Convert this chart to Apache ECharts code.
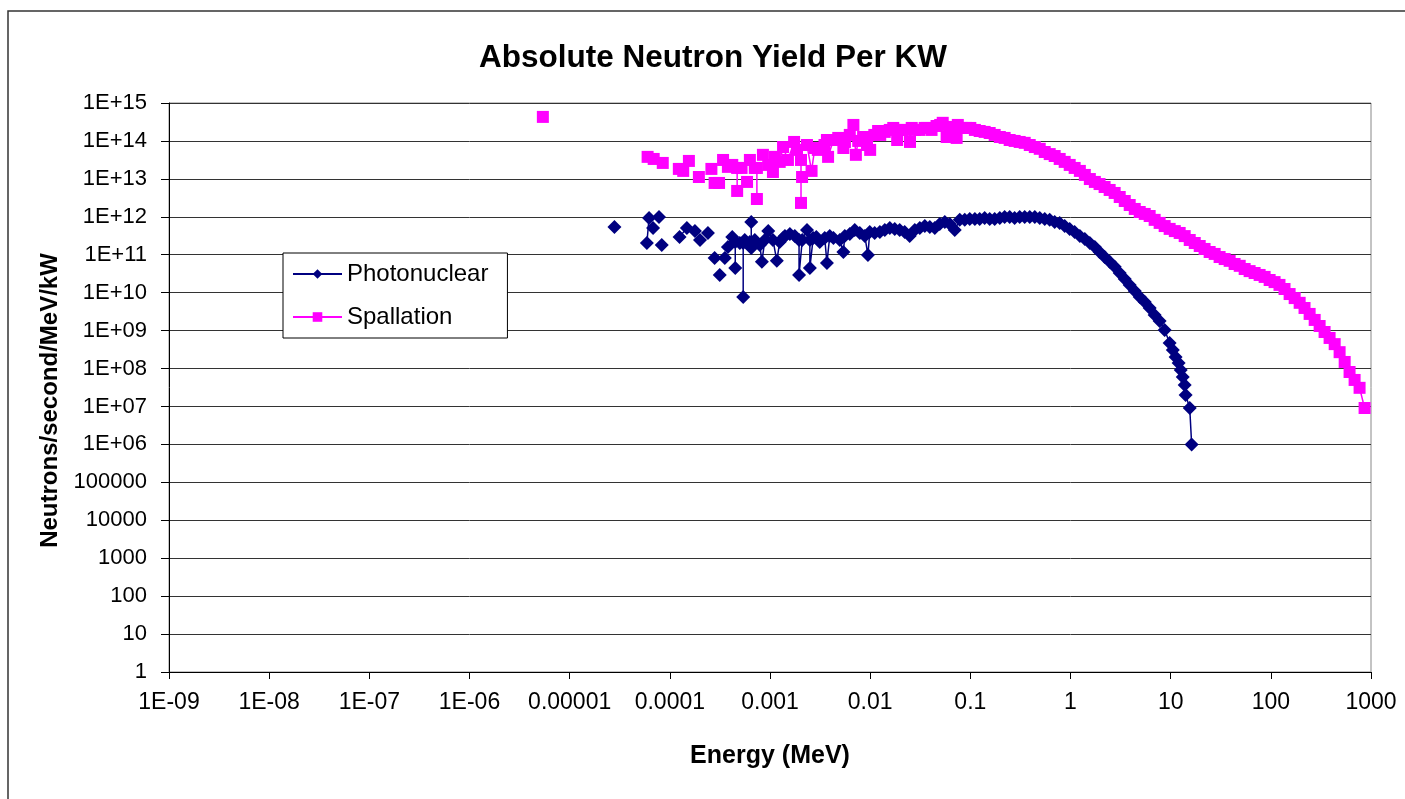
<!DOCTYPE html>
<html>
<head>
<meta charset="utf-8">
<title>Absolute Neutron Yield Per KW</title>
<script src="https://cdn.jsdelivr.net/npm/echarts@6/dist/echarts.min.js"></script>
<style>
  html, body { margin: 0; padding: 0; background: #fff; }
  #chart { width: 1405px; height: 799px; }
</style>
</head>
<body>
<div id="chart"></div>
<script>
(function () {
    'use strict';

    // tick labels, Excel "General" style
    var xTickLabels = ['1E-09', '1E-08', '1E-07', '1E-06', '0.00001', '0.0001', '0.001',
                       '0.01', '0.1', '1', '10', '100', '1000'];
    var yTickLabels = ['1', '10', '100', '1000', '10000', '100000', '1E+06', '1E+07', '1E+08',
                       '1E+09', '1E+10', '1E+11', '1E+12', '1E+13', '1E+14', '1E+15'];

    // null = gap in the line (blank cell in the sheet)
    var photoEnergy = [
        2.8e-5, null,
        6.2e-5, 5.9e-5, null,
        6.8e-5, null, 7.8e-5, null, 8.3e-5, null,
        1.25e-4, 1.48e-4, 1.78e-4, null,
        2.0e-4, null, 2.4e-4, null, 2.8e-4, null, 3.15e-4, null, 3.54e-4, null, 3.8e-4, null,
        4.2e-4, 4.5e-4, 4.5e-4, null,
        5.0e-4, 5.4e-4, 5.4e-4, null,
        6.5e-4, 6.5e-4, null,
        5.6e-4, 6.29e-4, 7.05e-4, 7.91e-4, 8.3e-4, 8.88e-4, 9.6e-4, 1.07e-3, 1.17e-3, 1.25e-3,
        1.35e-3, 1.41e-3, 1.58e-3, 1.77e-3, 1.95e-3, 1.95e-3, 2.1e-3, 2.34e-3, 2.5e-3, 2.5e-3,
        2.7e-3, 2.9e-3, 3.14e-3, 3.52e-3, 3.7e-3, 3.95e-3, 4.3e-3, 4.98e-3, 5.4e-3, 5.58e-3,
        6.26e-3, 7.02e-3, 7.88e-3, 8.84e-3, 9.5e-3, 9.91e-3, 1.11e-2, 1.25e-2, 1.40e-2, 1.57e-2,
        1.76e-2, 1.97e-2, 2.21e-2, 2.48e-2, 2.79e-2, 3.13e-2, 3.51e-2, 3.94e-2, 4.42e-2, 4.95e-2,
        5.56e-2, 6.23e-2, 6.99e-2, 7.84e-2, 8.8e-2, 9.87e-2, 0.111, 0.124, 0.139, 0.156,
        0.175, 0.197, 0.220, 0.247, 0.277, 0.311, 0.349, 0.392, 0.440, 0.493,
        0.553, 0.620, 0.695, 0.780, 0.875, 0.982, 1.10, 1.24, 1.39, 1.56,
        1.75, 1.95, 2.19, 2.46, 2.76, 3.10, 3.48, 3.90, 4.38, 4.91,
        5.51, 6.17, 6.92, 7.76, 8.71, 9.77, 10.5, 11.2, 12.0, 12.6,
        13.2, 13.8, 14.1, 15.5, 16.2
    ];
    var photoYield = [
        5.4e11, null,
        9.3e11, 2.04e11, null,
        5.1e11, null, 9.9e11, null, 1.81e11, null,
        2.94e11, 5.1e11, 4.2e11, null,
        2.45e11, null, 3.75e11, null, 8.2e10, null, 2.93e10, null, 8.2e10, null, 1.6e11, null,
        2.94e11, 2.17e11, 4.5e10, null,
        2.04e11, 2.04e11, 7.7e9, null,
        7.3e11, 1.51e11, null,
        2.45e11, 2.17e11, 2.45e11, 1.81e11, 6.5e10, 2.45e11, 4.2e11, 2.45e11, 6.9e10, 2.17e11,
        2.77e11, 3.1e11, 3.5e11, 3.1e11, 2.45e11, 2.93e10, 2.45e11, 4.5e11, 2.45e11, 4.5e10,
        2.77e11, 2.94e11, 2.17e11, 2.77e11, 6.1e10, 3.1e11, 2.77e11, 2.45e11, 1.18e11, 3.1e11,
        3.5e11, 4.5e11, 3.75e11, 3.1e11, 9.9e10, 4.0e11, 3.75e11, 4.0e11, 4.5e11, 5.1e11,
        4.8e11, 4.5e11, 4.0e11, 3.1e11, 4.5e11, 5.1e11, 5.7e11, 5.4e11, 5.1e11, 6.5e11,
        7.3e11, 6.5e11, 4.5e11, 8.3e11, 8.3e11, 8.8e11, 8.8e11, 8.8e11, 9.3e11, 8.8e11,
        8.8e11, 9.3e11, 9.9e11, 9.9e11, 9.3e11, 9.9e11, 9.9e11, 9.9e11, 9.9e11, 9.3e11,
        8.8e11, 8.3e11, 7.3e11, 6.9e11, 5.7e11, 4.8e11, 4.0e11, 3.1e11, 2.6e11, 2.04e11,
        1.6e11, 1.18e11, 8.7e10, 6.5e10, 4.8e10, 3.3e10, 2.3e10, 1.6e10, 1.11e10, 7.7e9,
        5.7e9, 3.95e9, 2.58e9, 1.79e9, 1.04e9, 4.7e8, 3.1e8, 2.0e8, 1.4e8, 9.2e7,
        6.0e7, 3.7e7, 2.0e7, 9.1e6, 1.0e6
    ];

    var spallEnergy = [
        5.4e-6, null,
        6.0e-5, 6.9e-5, null, 8.5e-5, null,
        1.23e-4, 1.36e-4, null, 1.55e-4, null, 1.95e-4, null, 2.6e-4, null,
        2.8e-4, 3.1e-4, null,
        3.4e-4, 3.8e-4, 4.2e-4, 4.7e-4, 4.7e-4, null,
        5.2e-4, 6.3e-4, 7.05e-4, 7.4e-4, 7.4e-4, null,
        5.9e-4, null,
        8.5e-4, 9.6e-4, 1.07e-3, 1.12e-3, 1.25e-3, 1.35e-3, 1.51e-3, 1.74e-3, 1.86e-3, 2.04e-3, 2.04e-3, null,
        2.09e-3, null,
        2.34e-3, 2.6e-3, 2.8e-3, 3.0e-3, 3.5e-3, 3.7e-3, 3.8e-3, 4.3e-3, 4.8e-3, 5.4e-3,
        5.6e-3, 6.26e-3, 6.8e-3, 7.2e-3, 7.6e-3, 8.5e-3, 9.3e-3, 1.0e-2, 1.1e-2, 1.2e-2,
        1.26e-2, 1.4e-2, 1.57e-2, 1.7e-2, 1.86e-2, 2.0e-2, 2.2e-2, 2.5e-2, 2.6e-2, 2.8e-2,
        3.1e-2, 3.5e-2, 3.7e-2, 4.1e-2, 4.6e-2, 5.0e-2, 5.3e-2, 5.8e-2, 6.2e-2, 6.6e-2,
        7.3e-2, 7.5e-2, 8.2e-2, 9.1e-2, 0.1, 0.111, 0.124, 0.139, 0.156, 0.175,
        0.197, 0.22, 0.247, 0.277, 0.311, 0.349, 0.392, 0.44, 0.493, 0.553,
        0.62, 0.695, 0.78, 0.875, 0.982, 1.10, 1.24, 1.39, 1.56, 1.75,
        1.95, 2.19, 2.46, 2.76, 3.10, 3.48, 3.90, 4.38, 4.91, 5.51,
        6.17, 6.92, 7.76, 8.71, 9.77, 11.0, 12.3, 13.8, 15.5, 17.4,
        19.5, 21.8, 24.5, 27.5, 30.8, 34.6, 38.8, 43.5, 48.9, 54.8,
        61.4, 68.9, 77.3, 86.7, 97.3, 109, 122, 137, 154, 173,
        194, 217, 244, 274, 307, 344, 386, 434, 486, 546,
        611, 686, 769, 863
    ];
    var spallYield = [
        4.3e14, null,
        3.8e13, 3.35e13, null, 2.63e13, null,
        1.83e13, 1.62e13, null, 2.97e13, null, 1.12e13, null, 1.83e13, null,
        7.8e12, 7.8e12, null,
        3.15e13, 2.07e13, 2.33e13, 1.94e13, 4.8e12, null,
        1.94e13, 3.15e13, 1.94e13, 1.94e13, 2.95e12, null,
        8.3e12, null,
        4.3e13, 2.33e13, 1.52e13, 3.8e13, 2.8e13, 6.9e13, 3.15e13, 9.4e13, 5.8e13, 3.15e13, 2.32e12, null,
        1.12e13, null,
        7.8e13, 1.62e13, 6.5e13, 5.8e13, 7.8e13, 1.06e14, 3.8e13, 1.06e14, 1.2e14, 6.5e13,
        9.4e13, 1.44e14, 2.64e14, 4.3e13, 1.0e14, 1.27e14, 7.8e13, 5.8e13, 1.44e14, 1.83e14,
        1.44e14, 1.73e14, 1.95e14, 2.2e14, 1.06e14, 1.95e14, 1.95e14, 9.4e13, 2.2e14, 1.95e14,
        1.95e14, 2.2e14, 2.2e14, 1.95e14, 2.48e14, 2.64e14, 3.0e14, 1.27e14, 2.34e14, 2.2e14,
        1.2e14, 2.64e14, 2.2e14, 2.2e14, 2.2e14, 1.95e14, 1.83e14, 1.73e14, 1.62e14, 1.44e14,
        1.27e14, 1.2e14, 1.06e14, 1.0e14, 9.4e13, 8.9e13, 7.8e13, 6.9e13, 6.2e13, 5.1e13,
        4.5e13, 4.0e13, 3.35e13, 2.8e13, 2.33e13, 1.94e13, 1.62e13, 1.27e13, 9.9e12, 8.3e12,
        7.3e12, 6.1e12, 5.1e12, 4.25e12, 3.33e12, 2.61e12, 2.05e12, 1.61e12, 1.34e12, 1.19e12,
        1.05e12, 8.3e11, 6.9e11, 5.7e11, 4.8e11, 4.2e11, 3.75e11, 3.1e11, 2.45e11, 2.04e11,
        1.7e11, 1.42e11, 1.18e11, 1.05e11, 8.7e10, 7.7e10, 6.9e10, 5.7e10, 5.1e10, 4.2e10,
        3.7e10, 3.3e10, 2.93e10, 2.6e10, 2.16e10, 1.9e10, 1.6e10, 1.25e10, 9.2e9, 7.2e9,
        5.4e9, 3.95e9, 2.75e9, 1.91e9, 1.32e9, 9.2e8, 6.4e8, 4.4e8, 2.7e8, 1.49e8,
        8.1e7, 5.0e7, 3.1e7, 9.1e6
    ];

    function toPairs(xs, ys) {
        return xs.map(function (x, i) {
            return x === null ? ['-', '-'] : [x, ys[i]];
        });
    }

    function decade(v) {
        return Math.round(Math.log(v) / Math.LN10);
    }

    var font = '"Liberation Sans", Arial, sans-serif';
    var chart = echarts.init(document.getElementById('chart'));

    chart.setOption({
        animation: false,
        backgroundColor: '#fff',
        textStyle: { fontFamily: font, color: '#000' },
        graphic: [{
            type: 'rect', z: -1, silent: true,
            shape: { x: 8, y: 11, width: 1500, height: 900 },
            style: { fill: 'none', stroke: '#333', lineWidth: 1.5 }
        }],
        title: {
            text: 'Absolute Neutron Yield Per KW',
            left: 708, top: 37, textAlign: 'center',
            textStyle: { fontFamily: font, fontSize: 31.5, fontWeight: 'bold', color: '#000' }
        },
        legend: {
            data: ['Photonuclear', 'Spallation'],
            orient: 'vertical',
            left: 283, top: 253,
            padding: [9, 19, 9, 9],
            itemWidth: 49, itemHeight: 12, itemGap: 19,
            backgroundColor: '#fff',
            borderColor: '#000', borderWidth: 1,
            textStyle: { fontFamily: font, fontSize: 24, color: '#000', lineHeight: 24 }
        },
        grid: {
            left: 169, right: 34, top: 103, bottom: 127,
            show: true, backgroundColor: '#fff',
            borderColor: '#888', borderWidth: 1
        },
        xAxis: {
            type: 'log', logBase: 10,
            min: 1e-9, max: 1000, interval: 1,
            name: 'Energy (MeV)', nameLocation: 'middle', nameGap: 72,
            nameTextStyle: { fontFamily: font, fontSize: 25, fontWeight: 'bold', color: '#000' },
            axisLine: { show: true, lineStyle: { color: '#000', width: 1 } },
            axisTick: { show: true, inside: false, length: 7, lineStyle: { color: '#000' } },
            minorTick: { show: false },
            splitLine: { show: false },
            axisLabel: {
                fontFamily: font, fontSize: 23, color: '#000', margin: 19,
                formatter: function (v) { return xTickLabels[decade(v) + 9]; }
            }
        },
        yAxis: {
            type: 'log', logBase: 10,
            min: 1, max: 1e15, interval: 1,
            name: 'Neutrons/second/MeV/kW', nameLocation: 'middle', nameGap: 105,
            nameTextStyle: {
                fontFamily: font, fontSize: 24, fontWeight: 'bold', color: '#000',
                padding: [0, 26, 0, 0]
            },
            axisLine: { show: true, lineStyle: { color: '#000', width: 1 } },
            axisTick: { show: true, inside: false, length: 8, lineStyle: { color: '#000' } },
            minorTick: { show: false },
            splitLine: { show: true, lineStyle: { color: '#333', width: 1 } },
            axisLabel: {
                fontFamily: font, fontSize: 22, color: '#000', margin: 22,
                formatter: function (v) { return yTickLabels[decade(v)]; }
            }
        },
        series: [{
            name: 'Photonuclear',
            type: 'line',
            data: toPairs(photoEnergy, photoYield),
            connectNulls: false,
            showAllSymbol: true,
            symbol: 'diamond', symbolSize: [14, 14],
            itemStyle: { color: '#000080' },
            lineStyle: { color: '#000080', width: 1.5 }
        }, {
            name: 'Spallation',
            type: 'line',
            data: toPairs(spallEnergy, spallYield),
            connectNulls: false,
            showAllSymbol: true,
            symbol: 'rect', symbolSize: 12,
            itemStyle: { color: '#ff00ff' },
            lineStyle: { color: '#ff00ff', width: 1.5 }
        }]
    });

    window.addEventListener('resize', function () { chart.resize(); });
})();
</script>
</body>
</html>
